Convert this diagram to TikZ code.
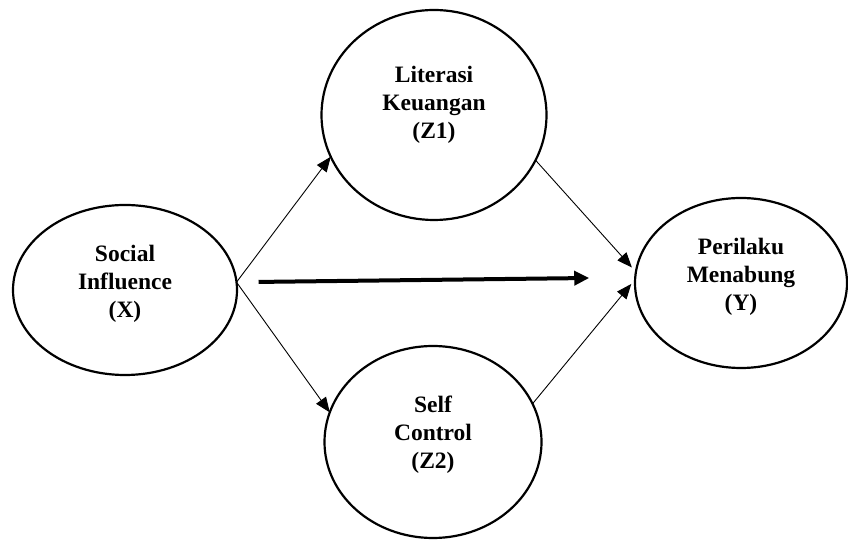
\documentclass[tikz,border=0pt]{standalone}
\usepackage{fontspec}
\setmainfont{Liberation Serif}
\usetikzlibrary{shapes.geometric,arrows.meta}
\newcommand{\lbl}[2]{\raisebox{#1}[\height][\depth]{\begin{tabular}{@{}c@{}}#2\end{tabular}}}
\begin{document}
\begin{tikzpicture}[x=1pt,y=1pt,
  latent/.style={ellipse,draw,line width=2.2pt,inner sep=0pt,outer sep=0pt,
    font=\fontsize{23.5}{28}\selectfont\bfseries},
  pathline/.style={line width=0.9pt,-{Triangle[length=15pt,width=12pt]}},
  thickline/.style={line width=4pt,-{Triangle[length=15pt,width=14pt]}}]
\useasboundingbox (0,0) rectangle (848,540);
\node[latent,minimum width=224pt,minimum height=170pt] (X) at (125,250)
  {\lbl{6pt}{Social\\Influence\\(X)}};
\node[latent,minimum width=225pt,minimum height=210pt] (Z1) at (434,425)
  {\lbl{10pt}{Literasi\\Keuangan\\(Z1)}};
\node[latent,minimum width=217pt,minimum height=192pt] (Z2) at (433,98)
  {\lbl{7pt}{Self\\Control\\(Z2)}};
\node[latent,minimum width=212pt,minimum height=170pt] (Y) at (741,257)
  {\lbl{6pt}{Perilaku\\Menabung\\(Y)}};
\draw[pathline] (X.4) -- (Z1.202);
\draw[pathline] (X.4) -- (Z2.164);
\draw[thickline,shorten <=22pt,shorten >=46pt] (X.4) -- (Y.177);
\draw[pathline,shorten >=6pt] (Z1.336) -- (Y.174);
\draw[pathline,shorten >=6pt] (Z2.21) -- (Y.178);
\end{tikzpicture}
\end{document}
